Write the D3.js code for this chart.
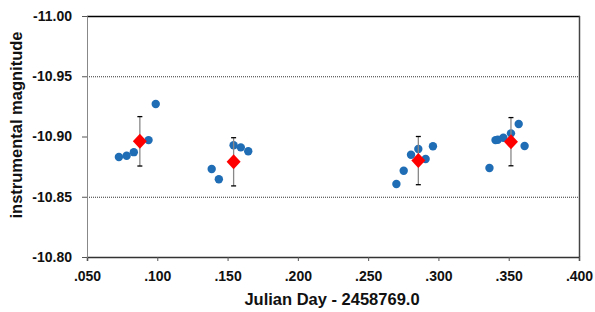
<!DOCTYPE html>
<meta charset="utf-8">
<style>
body { margin: 0; background: #fff; }
text { font-family: "Liberation Sans", Arial, sans-serif; font-weight: bold; fill: #111; }
.grid { stroke: #333; stroke-width: 1px; stroke-dasharray: 1,1; }
.err { stroke: #888; stroke-width: 1.3px; }
.cap { stroke: #000; stroke-width: 1.3px; }
.obs { fill: #1f6db5; }
.mean { fill: #ff0000; }
</style>
<svg width="595" height="312"></svg>
<script src="https://d3js.org/d3.v7.min.js"></script>
<script>

// individual observations
var obsX = [0.0727, 0.0782, 0.0833, 0.0938, 0.0989,
            0.1387, 0.1438, 0.1543, 0.1594, 0.1647,
            0.2701, 0.2753, 0.2805, 0.2857, 0.2909, 0.2961,
            0.3363, 0.3406, 0.3422, 0.3462, 0.3516, 0.3571, 0.3613];
var obsY = [-10.883, -10.884, -10.887, -10.897, -10.927,
            -10.873, -10.8645, -10.8927, -10.891, -10.8877,
            -10.8606, -10.8716, -10.8849, -10.8896, -10.8813, -10.8919,
            -10.8739, -10.897, -10.8973, -10.899, -10.9026, -10.9104, -10.8921];

// group means with error
var meanX = [0.0876, 0.1543, 0.2857, 0.3516];
var meanY = [-10.896, -10.879, -10.880, -10.8957];
var meanErr = [0.0205, 0.020, 0.020, 0.020];

var xTicks = [0.05, 0.10, 0.15, 0.20, 0.25, 0.30, 0.35, 0.40];
var yTicks = [-11.00, -10.95, -10.90, -10.85, -10.80];
var gridY = [-10.95, -10.85];

var svg = d3.select("svg"),
    plotL = 87, plotR = 579, plotT = 16, plotB = 257;

var x = d3.scaleLinear().domain([0.05, 0.40]).range([plotL, plotR]);
var y = d3.scaleLinear().domain([-10.80, -11.00]).range([plotB, plotT]);

svg.selectAll("line.grid")
    .data(gridY)
  .enter().append("line")
    .attr("class", "grid")
    .attr("x1", plotL).attr("x2", plotR)
    .attr("y1", function(d) { return y(d) + 0.5; })
    .attr("y2", function(d) { return y(d) + 0.5; });

// frame
svg.append("line").attr("x1", plotL).attr("x2", plotR + 1).attr("y1", plotT + 0.5).attr("y2", plotT + 0.5)
    .attr("stroke", "#000").attr("stroke-width", 1.5);
svg.append("line").attr("x1", plotR + 0.5).attr("x2", plotR + 0.5).attr("y1", plotT).attr("y2", plotB)
    .attr("stroke", "#444").attr("stroke-width", 1.5);

var xAxis = svg.append("g")
    .attr("transform", "translate(0," + plotB + ")")
    .call(d3.axisBottom(x).tickValues(xTicks).tickSize(4).tickPadding(10)
      .tickFormat(function(d) { return d3.format(".3f")(d).replace(/^0/, ""); }));
xAxis.select(".domain").attr("stroke", "#333").attr("stroke-width", 1.5);
xAxis.selectAll(".tick line").attr("stroke", "#555");
xAxis.selectAll("text").style("font-size", "14px").style("font-family", null);

var yAxis = svg.append("g")
    .attr("transform", "translate(" + plotL + ",0)")
    .call(d3.axisLeft(y).tickValues(yTicks).tickSize(5).tickPadding(10)
      .tickFormat(function(d) { return d3.format(".2f")(d).replace("\u2212", "-"); }));
yAxis.select(".domain").attr("stroke", "#888").attr("stroke-width", 1);
yAxis.selectAll(".tick line").attr("stroke", "#555");
yAxis.selectAll("text").style("font-size", "14px").style("font-family", null);

svg.append("text")
    .attr("x", 332)
    .attr("y", 305)
    .attr("text-anchor", "middle")
    .style("font-size", "16.5px")
    .text("Julian Day - 2458769.0");

svg.append("text")
    .attr("transform", "translate(22,125) rotate(-90)")
    .attr("text-anchor", "middle")
    .style("font-size", "16.5px")
    .text("instrumental magnitude");

// observations
svg.selectAll("circle.obs")
    .data(obsX)
  .enter().append("circle")
    .attr("class", "obs")
    .attr("cx", function(d) { return x(d); })
    .attr("cy", function(d, i) { return y(obsY[i]); })
    .attr("r", 4.2);

// error bars
var eb = svg.selectAll("g.eb")
    .data(meanX)
  .enter().append("g")
    .attr("class", "eb");
eb.append("line").attr("class", "err")
    .attr("x1", function(d) { return x(d); }).attr("x2", function(d) { return x(d); })
    .attr("y1", function(d, i) { return y(meanY[i] - meanErr[i]); })
    .attr("y2", function(d, i) { return y(meanY[i] + meanErr[i]); });
eb.append("line").attr("class", "cap")
    .attr("x1", function(d) { return x(d) - 2.5; }).attr("x2", function(d) { return x(d) + 2.5; })
    .attr("y1", function(d, i) { return y(meanY[i] - meanErr[i]); })
    .attr("y2", function(d, i) { return y(meanY[i] - meanErr[i]); });
eb.append("line").attr("class", "cap")
    .attr("x1", function(d) { return x(d) - 2.5; }).attr("x2", function(d) { return x(d) + 2.5; })
    .attr("y1", function(d, i) { return y(meanY[i] + meanErr[i]); })
    .attr("y2", function(d, i) { return y(meanY[i] + meanErr[i]); });

// means
svg.selectAll("path.mean")
    .data(meanX)
  .enter().append("path")
    .attr("class", "mean")
    .attr("transform", function(d, i) { return "translate(" + x(d) + "," + y(meanY[i]) + ")"; })
    .attr("d", "M0,-7.5L7,0L0,7.5L-7,0Z");

</script>
